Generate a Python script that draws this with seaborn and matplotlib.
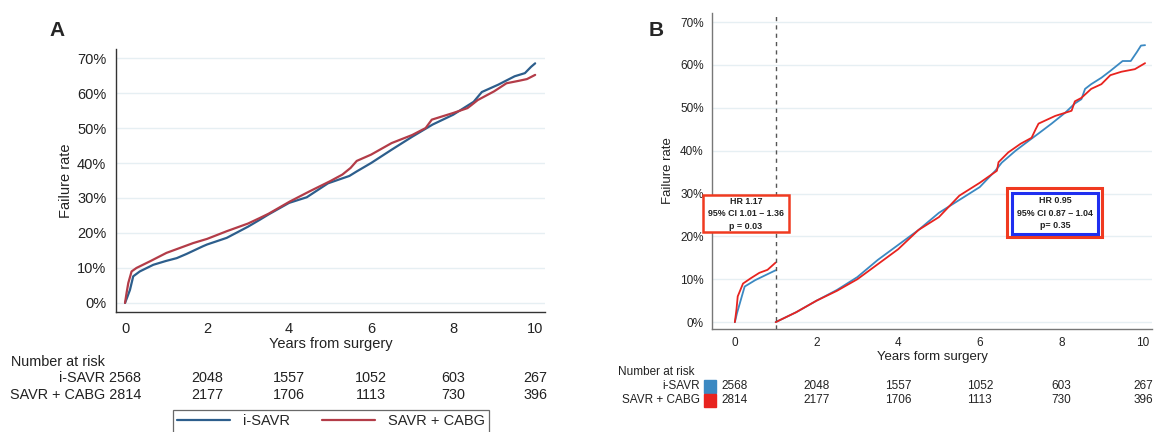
import numpy as np
import pandas as pd
import seaborn as sns
import matplotlib
matplotlib.use("Agg")
from matplotlib import pyplot as plt
from matplotlib.ticker import PercentFormatter
from matplotlib.lines import Line2D
from matplotlib.patches import Rectangle
from matplotlib.transforms import blended_transform_factory

# panel A - overall failure curves (years, %)
a_isavr_t = [0, 0.05, 0.12, 0.2, 0.36, 0.69, 1.0, 1.26, 1.5, 1.9, 2.0, 2.48, 3.0, 3.29, 3.5, 4.0,
             4.43, 4.95, 5.47, 5.65, 6.0, 6.5, 7.0, 7.5, 8.0, 8.5, 8.7, 9.1, 9.5, 9.75, 9.9, 10.0]
a_isavr_y = [0, 1.5, 3.7, 7.6, 9.0, 10.9, 12.0, 12.8, 14.0, 16.2, 16.7, 18.6, 21.8, 23.8, 25.3, 28.6,
             30.2, 34.2, 36.3, 37.6, 40.0, 43.8, 47.5, 51.0, 53.8, 57.5, 60.3, 62.4, 64.8, 65.7, 67.5, 68.5]
a_cabg_t = [0, 0.04, 0.08, 0.16, 0.28, 0.61, 1.01, 1.66, 2.0, 2.48, 3.0, 3.29, 3.5, 4.02, 4.5, 5.0,
            5.3, 5.5, 5.65, 6.0, 6.5, 7.0, 7.33, 7.48, 8.0, 8.35, 8.45, 8.6, 9.0, 9.3, 9.6, 9.8, 10.0]
a_cabg_y = [0, 3.0, 5.7, 9.0, 10.0, 11.9, 14.3, 17.1, 18.3, 20.5, 22.7, 24.3, 25.5, 29.0, 31.9, 34.8,
            36.7, 38.6, 40.6, 42.4, 45.7, 48.0, 50.0, 52.4, 54.3, 55.7, 56.6, 58.0, 60.5, 62.8, 63.5, 64.0, 65.2]

# panel B - landmark at 1 year, two segments per group
b_isavr_t1 = [0, 0.05, 0.11, 0.24, 0.5, 0.76, 1.0]
b_isavr_y1 = [0, 2.0, 4.0, 8.3, 9.8, 11.0, 12.1]
b_cabg_t1 = [0, 0.04, 0.07, 0.2, 0.4, 0.6, 0.8, 1.0]
b_cabg_y1 = [0, 3.0, 6.0, 9.0, 10.3, 11.5, 12.2, 13.9]
b_isavr_t2 = [1.0, 1.5, 2.0, 2.5, 3.0, 3.5, 4.0, 4.5, 5.0, 5.5, 6.0, 6.38, 6.54, 6.88, 7.2, 7.44,
              7.76, 8.1, 8.33, 8.49, 8.58, 8.73, 8.98, 9.2, 9.5, 9.7, 9.85, 9.95, 10.05]
b_isavr_y2 = [0, 2.3, 5.0, 7.5, 10.5, 14.5, 18.0, 21.5, 25.5, 28.5, 31.5, 35.3, 37.2, 40.0, 42.3, 44.0,
              46.3, 48.9, 51.0, 52.0, 54.4, 55.5, 57.0, 58.6, 60.9, 60.9, 63.0, 64.5, 64.6]
b_cabg_t2 = [1.0, 1.5, 2.0, 2.5, 3.0, 3.5, 4.0, 4.5, 5.0, 5.5, 5.8, 6.0, 6.42, 6.46, 6.7, 7.0, 7.27,
             7.37, 7.44, 7.85, 8.25, 8.33, 8.49, 8.73, 8.98, 9.2, 9.47, 9.8, 10.05]
b_cabg_y2 = [0, 2.3, 5.0, 7.3, 10.0, 13.5, 17.0, 21.5, 24.5, 29.5, 31.3, 32.5, 35.3, 37.3, 39.6, 41.6, 43.0,
             45.0, 46.3, 48.1, 49.3, 51.5, 52.3, 54.4, 55.5, 57.6, 58.4, 59.0, 60.4]

# number at risk
risk_years = [0, 2, 4, 6, 8, 10]
risk_isavr = [2568, 2048, 1557, 1052, 603, 267]
risk_cabg = [2814, 2177, 1706, 1113, 730, 396]

groups = ["i-SAVR", "SAVR + CABG"]
hr_early = "HR 1.17\n95% CI 1.01 \u2013 1.36\np = 0.03"
hr_late = "HR 0.95\n95% CI 0.87 \u2013 1.04\np= 0.35"

df_a = pd.concat([
    pd.DataFrame({"t": a_isavr_t, "rate": a_isavr_y, "group": groups[0], "seg": 0}),
    pd.DataFrame({"t": a_cabg_t, "rate": a_cabg_y, "group": groups[1], "seg": 0}),
])
df_b = pd.concat([
    pd.DataFrame({"t": b_isavr_t1, "rate": b_isavr_y1, "group": groups[0], "seg": 1}),
    pd.DataFrame({"t": b_isavr_t2, "rate": b_isavr_y2, "group": groups[0], "seg": 2}),
    pd.DataFrame({"t": b_cabg_t1, "rate": b_cabg_y1, "group": groups[1], "seg": 1}),
    pd.DataFrame({"t": b_cabg_t2, "rate": b_cabg_y2, "group": groups[1], "seg": 2}),
])

sns.set_style("white")
plt.rcParams['font.family'] = ['Liberation Sans', 'DejaVu Sans']

pal_a = {"i-SAVR": "#2D5E8C", "SAVR + CABG": "#B33C48"}
pal_b = {"i-SAVR": "#3B89C2", "SAVR + CABG": "#E8231F"}
grid_col = "#E6EFF3"
txt_col = "#222222"

W, H = 1154, 432
fig = plt.figure(figsize=(W / 100, H / 100), dpi=100)


def fy(py):
    return 1 - py / H


def fx(px):
    return px / W


# ---------- panel A ----------
axA = fig.add_axes([fx(116), fy(312), fx(545 - 116), (312 - 49) / H])
sns.lineplot(data=df_a, x="t", y="rate", hue="group", units="seg", estimator=None,
             palette=pal_a, linewidth=1.6, legend=False, ax=axA, sort=False)
axA.set_xlim(-0.22, 10.24)
axA.set_ylim(-2.6, 72.6)
axA.set_xticks([0, 2, 4, 6, 8, 10])
axA.set_yticks(range(0, 71, 10))
axA.yaxis.set_major_formatter(PercentFormatter(decimals=0))
for yv in range(0, 71, 10):
    axA.axhline(yv, color=grid_col, lw=1, zorder=0)
for s in ["top", "right"]:
    axA.spines[s].set_visible(False)
for s in ["left", "bottom"]:
    axA.spines[s].set_color("#333333")
    axA.spines[s].set_linewidth(1)
axA.tick_params(axis="both", direction="out", length=4, width=0.8, color="#333333",
                labelsize=10.5, labelcolor=txt_col, pad=3)
axA.set_xlabel("Years from surgery", fontsize=10.5, labelpad=1, color=txt_col)
axA.set_ylabel("Failure rate", fontsize=10.5, labelpad=3, color=txt_col)
fig.text(fx(57), fy(30), "A", fontsize=15, fontweight="bold", ha="center", va="center")

trA = blended_transform_factory(axA.transData, fig.transFigure)
fig.text(fx(11), fy(362), "Number at risk", fontsize=10.4, ha="left", va="center", color=txt_col)
fig.text(fx(141), fy(378), f"{groups[0]} {risk_isavr[0]}", fontsize=10.4, ha="right", va="center", color=txt_col)
fig.text(fx(141), fy(395), f"{groups[1]} {risk_cabg[0]}", fontsize=10.4, ha="right", va="center", color=txt_col)
for yr, n1, n2 in zip(risk_years[1:], risk_isavr[1:], risk_cabg[1:]):
    axA.text(yr, fy(378), str(n1), transform=trA, fontsize=10.4, ha="center", va="center", color=txt_col)
    axA.text(yr, fy(395), str(n2), transform=trA, fontsize=10.4, ha="center", va="center", color=txt_col)

handles = [Line2D([], [], color=pal_a[g], lw=1.6) for g in groups]
leg = fig.legend(handles, groups, loc="upper center", bbox_to_anchor=(fx(331), fy(410)),
                 ncol=2, fontsize=10.5, frameon=True, fancybox=False, edgecolor="#444444",
                 handlelength=3.6, columnspacing=2.2, borderpad=0.3, handletextpad=0.9,
                 borderaxespad=0)
leg.get_frame().set_linewidth(0.9)

# ---------- panel B ----------
axB = fig.add_axes([fx(712), fy(329), fx(1152 - 712), (329 - 13) / H])
sns.lineplot(data=df_b, x="t", y="rate", hue="group", units="seg", estimator=None,
             palette=pal_b, linewidth=1.3, legend=False, ax=axB, sort=False)
axB.set_xlim(-0.56, 10.22)
axB.set_ylim(-1.6, 72.1)
axB.set_xticks([0, 2, 4, 6, 8, 10])
axB.set_yticks(range(0, 71, 10))
axB.yaxis.set_major_formatter(PercentFormatter(decimals=0))
for yv in range(0, 71, 10):
    axB.axhline(yv, color=grid_col, lw=1, zorder=0)
axB.axvline(1, color="#555555", lw=1, ls=(0, (3, 3)), zorder=3)
for s in ["top", "right"]:
    axB.spines[s].set_visible(False)
for s in ["left", "bottom"]:
    axB.spines[s].set_color("#777777")
    axB.spines[s].set_linewidth(1)
axB.tick_params(axis="both", direction="out", length=4, width=0.8, color="#777777",
                labelsize=8.5, labelcolor=txt_col, pad=2)
axB.set_xlabel("Years form surgery", fontsize=9.5, labelpad=1, color=txt_col)
axB.set_ylabel("Failure rate", fontsize=9.5, labelpad=4, color=txt_col)
fig.text(fx(656), fy(30), "B", fontsize=15, fontweight="bold", ha="center", va="center")

# hazard ratio boxes (figure pixel positions)
fig.add_artist(Rectangle((fx(703), fy(232)), fx(86), 37 / H, transform=fig.transFigure,
                         fc="white", ec="#F03A20", lw=1.8, zorder=4))
fig.text(fx(746), fy(213.5), hr_early, fontsize=6.4, fontweight="bold", ha="center", va="center",
         linespacing=1.5, color=txt_col, zorder=5)
fig.add_artist(Rectangle((fx(1007), fy(237)), fx(95), 49 / H, transform=fig.transFigure,
                         fc="white", ec="#F03A20", lw=2.2, zorder=4))
fig.add_artist(Rectangle((fx(1011.5), fy(233.5)), fx(86), 41 / H, transform=fig.transFigure,
                         fc="white", ec="#1F2FF0", lw=2.2, zorder=4))
fig.text(fx(1055), fy(213), hr_late, fontsize=6.4, fontweight="bold", ha="center", va="center",
         linespacing=1.5, color=txt_col, zorder=5)

trB = blended_transform_factory(axB.transData, fig.transFigure)
fig.text(fx(618), fy(372), "Number at risk", fontsize=8.5, ha="left", va="center", color=txt_col)
fig.text(fx(700), fy(386), groups[0], fontsize=8.5, ha="right", va="center", color=txt_col)
fig.text(fx(700), fy(400), groups[1], fontsize=8.5, ha="right", va="center", color=txt_col)
fig.add_artist(Rectangle((fx(704), fy(393)), fx(12), 13 / H, color=pal_b[groups[0]],
                         transform=fig.transFigure))
fig.add_artist(Rectangle((fx(704), fy(407)), fx(12), 13 / H, color=pal_b[groups[1]],
                         transform=fig.transFigure))
for yr, n1, n2 in zip(risk_years, risk_isavr, risk_cabg):
    axB.text(yr, fy(386), str(n1), transform=trB, fontsize=8.5, ha="center", va="center", color=txt_col)
    axB.text(yr, fy(400), str(n2), transform=trB, fontsize=8.5, ha="center", va="center", color=txt_col)

fig.savefig("out.png", dpi=100)
